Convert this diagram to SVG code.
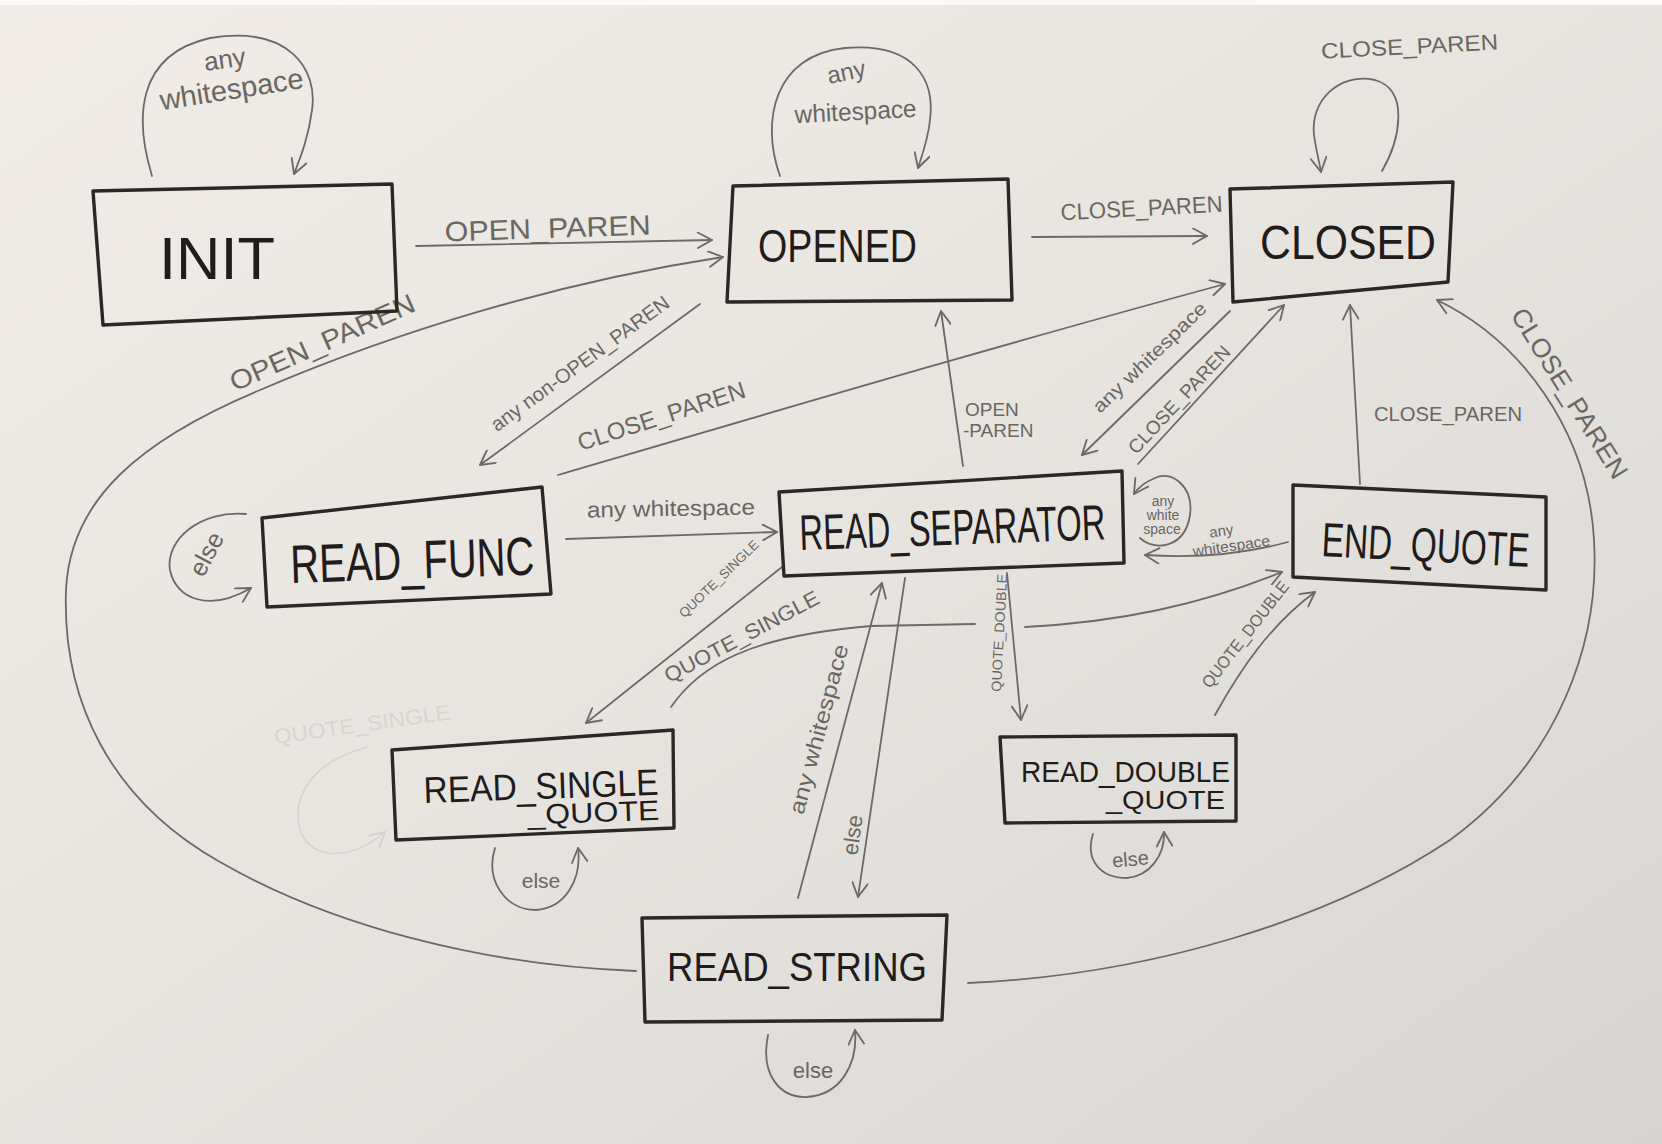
<svg xmlns="http://www.w3.org/2000/svg" width="1662" height="1144" viewBox="0 0 1662 1144">
  <defs>
    <linearGradient id="paper" x1="0" y1="0" x2="1" y2="1">
      <stop offset="0" stop-color="#f1ece7"/>
      <stop offset="0.5" stop-color="#e7e4e0"/>
      <stop offset="1" stop-color="#d7d5d2"/>
    </linearGradient>
    <marker id="arr" viewBox="0 0 12 12" refX="11" refY="6" markerWidth="17" markerHeight="17" markerUnits="userSpaceOnUse" orient="auto">
      <path d="M1,0.5 L11,6 L1,11.5" fill="none" stroke="#6d6966" stroke-width="1.3" stroke-linecap="round" stroke-linejoin="round"/>
    </marker>
    <marker id="arr-faint" viewBox="0 0 12 12" refX="11" refY="6" markerWidth="17" markerHeight="17" markerUnits="userSpaceOnUse" orient="auto">
      <path d="M1,0.5 L11,6 L1,11.5" fill="none" stroke="#d3cfca" stroke-width="1.3" stroke-linecap="round"/>
    </marker>
    <style>
      .box { fill: none; stroke: #2a2725; stroke-width: 3.4; stroke-linejoin: round; stroke-linecap: round; }
      .name { font-family: "Liberation Sans", "DejaVu Sans", sans-serif; fill: #1f1c1b; }
      .edge { fill: none; stroke: #6d6966; stroke-width: 1.8; stroke-linecap: round; }
      .edge-a { marker-end: url(#arr); }
      .lbl { font-family: "Liberation Sans", "DejaVu Sans", sans-serif; fill: #6a6662; text-anchor: middle; }
      .lbl-l { font-family: "Liberation Sans", "DejaVu Sans", sans-serif; fill: #6a6662; }
      .faint { fill: none; stroke: #d6d2cd; stroke-width: 1.6; }
      .faint-t { font-family: "Liberation Sans", sans-serif; fill: #d8d4cf; }
    </style>
  </defs>

  <!-- paper -->
  <rect width="1662" height="1144" fill="url(#paper)"/>
  <rect width="1662" height="5" fill="#fbfaf8"/>

  <!-- connectors and their labels -->
  <g id="connectors">
    <!-- self loops -->
    <path class="edge edge-a" d="M152,176 C135,120 135,55 210,38 C290,25 318,70 312,110 C308,140 300,158 294,174"/>
    <path class="edge edge-a" d="M780,176 C760,120 775,55 845,48 C915,42 935,80 930,120 C928,140 922,155 918,168"/>
    <path class="edge edge-a" stroke="#8f8b87" d="M1382,171 C1400,140 1410,90 1375,80 C1340,72 1310,100 1314,135 C1316,150 1319,160 1321,172"/>
    <path class="edge edge-a" d="M246,514 C200,510 165,540 170,570 C176,600 210,612 251,588"/>
    <path class="edge edge-a" d="M1140,538 C1155,552 1185,548 1190,515 C1194,485 1170,470 1155,478 C1145,482 1138,488 1134,494"/>
    <path class="edge edge-a" d="M495,848 C485,880 505,910 536,910 C565,908 582,880 578,848"/>
    <path class="edge edge-a" d="M1093,834 C1085,860 1100,878 1127,878 C1150,876 1165,855 1164,832"/>
    <path class="edge edge-a" d="M768,1035 C760,1075 780,1098 807,1097 C840,1095 858,1065 855,1030"/>

    <!-- straight and curved transitions -->
    <path class="edge edge-a" d="M416,246 L712,240"/>
    <path class="edge edge-a" d="M1032,237 L1207,236"/>
    <path class="edge edge-a" d="M636,971 C480,965 330,925 220,862 C110,800 62,700 66,590 C70,500 140,440 260,390 C400,330 560,282 723,257"/>
    <path class="edge edge-a" d="M968,983 C1150,975 1330,920 1450,840 C1560,760 1600,640 1594,540 C1588,430 1520,340 1437,300"/>
    <path class="edge edge-a" d="M700,304 L480,465"/>
    <path class="edge edge-a" d="M558,475 C780,410 1000,345 1225,284"/>
    <path class="edge edge-a" d="M566,539 L777,532"/>
    <path class="edge edge-a" d="M963,466 L941,311"/>
    <path class="edge edge-a" d="M1230,311 L1082,455"/>
    <path class="edge edge-a" d="M1138,464 L1284,305"/>
    <path class="edge edge-a" d="M1288,542 C1240,555 1190,558 1145,555"/>
    <path class="edge edge-a" d="M1360,484 L1350,305"/>
    <path class="edge edge-a" d="M782,567 L586,723"/>
    <path class="edge edge-a" d="M671,707 C700,665 750,636 871,626 L975,624 M1025,627 C1120,622 1200,605 1282,572"/>
    <path class="edge edge-a" d="M1007,573 L1021,720"/>
    <path class="edge edge-a" d="M1215,715 C1240,670 1270,625 1315,592"/>
    <path class="edge edge-a" d="M905,578 L858,897"/>
    <path class="edge edge-a" d="M798,898 L882,583"/>

    <!-- rubbed-out loop beside READ_SINGLE_QUOTE -->
    <path class="faint" marker-end="url(#arr-faint)" d="M367,747 C320,760 290,790 300,830 C310,860 350,862 385,832"/>
    <text class="faint-t" x="275" y="744" font-size="21" transform="rotate(-8 275 744)" textLength="178" lengthAdjust="spacingAndGlyphs">QUOTE_SINGLE</text>

    <!-- labels -->
    <text class="lbl" x="226" y="68" font-size="26" transform="rotate(-8 226 68)">any</text>
    <text class="lbl" x="233" y="99" font-size="29" transform="rotate(-9 233 99)" textLength="145" lengthAdjust="spacingAndGlyphs">whitespace</text>
    <text class="lbl" x="848" y="80" font-size="24" transform="rotate(-12 848 80)">any</text>
    <text class="lbl" x="856" y="120" font-size="25" transform="rotate(-3 856 120)" textLength="122" lengthAdjust="spacingAndGlyphs">whitespace</text>
    <text class="lbl" x="1410" y="54" font-size="22" fill="#9b9793" transform="rotate(-3 1410 54)" textLength="177" lengthAdjust="spacingAndGlyphs">CLOSE_PAREN</text>

    <text class="lbl" x="548" y="238" font-size="28" transform="rotate(-2 548 238)" textLength="206" lengthAdjust="spacingAndGlyphs">OPEN_PAREN</text>
    <text class="lbl" x="1142" y="216" font-size="23" transform="rotate(-3 1142 216)" textLength="162" lengthAdjust="spacingAndGlyphs">CLOSE_PAREN</text>
    <text class="lbl" x="326" y="351" font-size="27" transform="rotate(-24 326 351)" textLength="200" lengthAdjust="spacingAndGlyphs">OPEN_PAREN</text>
    <text class="lbl" x="1562" y="398" font-size="26" transform="rotate(58 1562 398)" textLength="196" lengthAdjust="spacingAndGlyphs">CLOSE_PAREN</text>
    <text class="lbl" x="584" y="369" font-size="20" transform="rotate(-36 584 369)" textLength="215" lengthAdjust="spacingAndGlyphs">any non-OPEN_PAREN</text>
    <text class="lbl" x="664" y="424" font-size="24" transform="rotate(-18 664 424)" textLength="175" lengthAdjust="spacingAndGlyphs">CLOSE_PAREN</text>
    <text class="lbl" x="214" y="558" font-size="25" transform="rotate(-62 214 558)">else</text>
    <text class="lbl" x="671" y="516" font-size="22" transform="rotate(-1 671 516)" textLength="168" lengthAdjust="spacingAndGlyphs">any whitespace</text>
    <text class="lbl-l" x="965" y="416" font-size="19">OPEN</text>
    <text class="lbl-l" x="963" y="437" font-size="19">-PAREN</text>
    <text class="lbl" x="1154" y="362" font-size="19" transform="rotate(-44 1154 362)" textLength="150" lengthAdjust="spacingAndGlyphs">any whitespace</text>
    <text class="lbl" x="1184" y="404" font-size="19" transform="rotate(-47 1184 404)" textLength="140" lengthAdjust="spacingAndGlyphs">CLOSE_PAREN</text>
    <text class="lbl" font-size="14"><tspan x="1163" y="506">any</tspan><tspan x="1163" y="520">white</tspan><tspan x="1162" y="534">space</tspan></text>
    <text class="lbl" x="1222" y="536" font-size="15" transform="rotate(-8 1222 536)">any</text>
    <text class="lbl" x="1232" y="551" font-size="15" transform="rotate(-8 1232 551)" textLength="78" lengthAdjust="spacingAndGlyphs">whitespace</text>
    <text class="lbl" x="1448" y="421" font-size="21" textLength="148" lengthAdjust="spacingAndGlyphs">CLOSE_PAREN</text>
    <text class="lbl" x="722" y="582" font-size="13" transform="rotate(-44 722 582)" textLength="105" lengthAdjust="spacingAndGlyphs">QUOTE_SINGLE</text>
    <text class="lbl" x="745" y="643" font-size="21" transform="rotate(-28 745 643)" textLength="172" lengthAdjust="spacingAndGlyphs">QUOTE_SINGLE</text>
    <text class="lbl" x="1004" y="633" font-size="14" transform="rotate(-87 1004 633)" textLength="118" lengthAdjust="spacingAndGlyphs">QUOTE_DOUBLE</text>
    <text class="lbl" x="1250" y="638" font-size="17" transform="rotate(-52 1250 638)" textLength="130" lengthAdjust="spacingAndGlyphs">QUOTE_DOUBLE</text>
    <text class="lbl" x="860" y="836" font-size="22" transform="rotate(-82 860 836)">else</text>
    <text class="lbl" x="826" y="731" font-size="22" transform="rotate(-75 826 731)" textLength="175" lengthAdjust="spacingAndGlyphs">any whitespace</text>
    <text class="lbl" x="813" y="1078" font-size="22">else</text>
    <text class="lbl" x="541" y="888" font-size="21">else</text>
    <text class="lbl" x="1131" y="866" font-size="20" transform="rotate(-5 1131 866)">else</text>
  </g>

  <!-- states -->
  <g id="node-init">
    <polygon class="box" points="93,191 392,184 397,311 103,325"/>
    <text class="name" x="159" y="279" font-size="60" textLength="116" lengthAdjust="spacingAndGlyphs">INIT</text>
  </g>
  <g id="node-opened">
    <polygon class="box" points="733,186 1008,179 1012,300 727,302"/>
    <text class="name" x="758" y="262" font-size="46" textLength="159" lengthAdjust="spacingAndGlyphs">OPENED</text>
  </g>
  <g id="node-closed">
    <polygon class="box" points="1230,189 1453,182 1448,282 1233,302"/>
    <text class="name" x="1260" y="259" font-size="48" textLength="176" lengthAdjust="spacingAndGlyphs">CLOSED</text>
  </g>
  <g id="node-read-func">
    <polygon class="box" points="262,518 542,487 551,594 267,607"/>
    <text class="name" x="291" y="583" font-size="54" transform="rotate(-2 291 583)" textLength="244" lengthAdjust="spacingAndGlyphs">READ_FUNC</text>
  </g>
  <g id="node-read-separator">
    <polygon class="box" points="779,492 1122,471 1124,563 784,576"/>
    <text class="name" x="800" y="550" font-size="50" transform="rotate(-2 800 550)" textLength="306" lengthAdjust="spacingAndGlyphs">READ_SEPARATOR</text>
  </g>
  <g id="node-end-quote">
    <polygon class="box" points="1293,485 1546,497 1546,590 1293,577"/>
    <text class="name" x="1321" y="556" font-size="48" transform="rotate(3 1321 556)" textLength="208" lengthAdjust="spacingAndGlyphs">END_QUOTE</text>
  </g>
  <g id="node-read-single-quote">
    <polygon class="box" points="392,750 673,730 674,828 396,840"/>
    <text class="name" transform="rotate(-2 424 805)"><tspan x="424" y="803" font-size="37" textLength="235" lengthAdjust="spacingAndGlyphs">READ_SINGLE</tspan><tspan x="527" y="828" font-size="28" textLength="132" lengthAdjust="spacingAndGlyphs">_QUOTE</tspan></text>
  </g>
  <g id="node-read-double-quote">
    <polygon class="box" points="1000,737 1236,735 1236,821 1005,823"/>
    <text class="name"><tspan x="1021" y="782" font-size="30" textLength="209" lengthAdjust="spacingAndGlyphs">READ_DOUBLE</tspan><tspan x="1106" y="809" font-size="26" textLength="119" lengthAdjust="spacingAndGlyphs">_QUOTE</tspan></text>
  </g>
  <g id="node-read-string">
    <polygon class="box" points="642,918 947,915 942,1020 645,1022"/>
    <text class="name" x="667" y="981" font-size="40" textLength="260" lengthAdjust="spacingAndGlyphs">READ_STRING</text>
  </g>
</svg>
